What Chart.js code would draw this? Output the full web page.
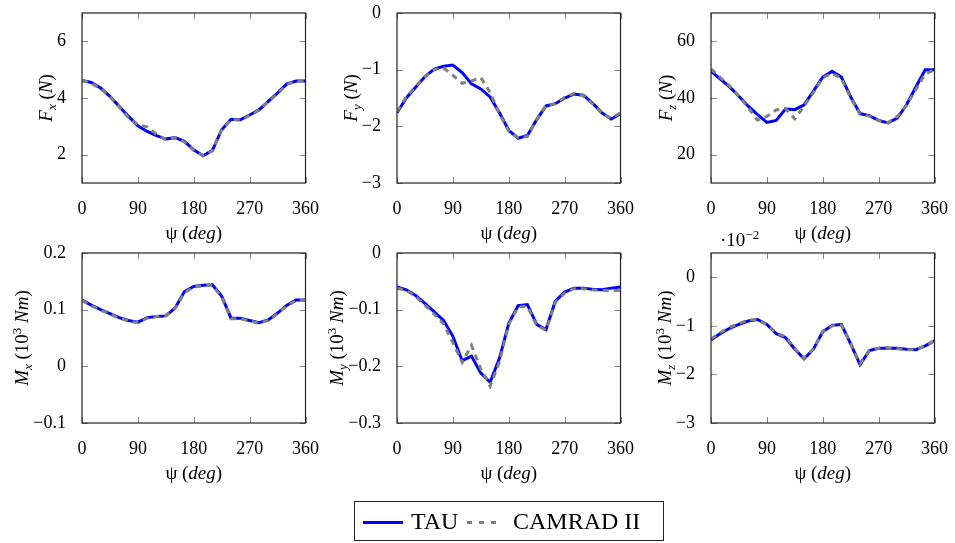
<!DOCTYPE html>
<html>
<head>
<meta charset="utf-8">
<script src="https://cdn.jsdelivr.net/npm/chart.js@4.4.0/dist/chart.umd.min.js"></script>
<style>
body { margin: 0; background: #fff; width: 955px; height: 543px; position: relative; overflow: hidden; font-family: 'Liberation Serif', serif; }
canvas { position: absolute; }
#legend { position: absolute; left: 354px; top: 501px; width: 310px; height: 40px; border: 1px solid #222; box-sizing: border-box; font-size: 24px; color: #000; }
#legend span { position: absolute; }
.swatch { height: 3px; top: 19px; }
.txt { top: 4px; line-height: 30px; }
</style>
</head>
<body>
<canvas id="fx" width="326" height="257" style="left:0px;top:-12px"></canvas>
<canvas id="fy" width="326" height="257" style="left:315px;top:-12px"></canvas>
<canvas id="fz" width="326" height="257" style="left:629px;top:-12px"></canvas>
<canvas id="mx" width="326" height="257" style="left:0px;top:228px"></canvas>
<canvas id="my" width="326" height="257" style="left:315px;top:228px"></canvas>
<canvas id="mz" width="326" height="257" style="left:629px;top:228px"></canvas>
<div id="legend">
  <span class="swatch" style="left:8px;width:40px;background:#0000ff"></span>
  <span class="txt" style="left:56px">TAU</span>
  <span class="swatch" style="left:112px;width:36px;background:repeating-linear-gradient(90deg,#808080 0 5px,transparent 5px 12px)"></span>
  <span class="txt" style="left:158px">CAMRAD II</span>
</div>
<script>
// azimut
const psi = [0, 15, 30, 45, 60, 75, 90, 105, 120, 135, 150, 165, 180, 195, 210, 225, 240, 255, 270, 285, 300, 315, 330, 345, 360];
const xTicks = [0, 90, 180, 270, 360];

// Fuerzas
const fxTau = [4.62, 4.55, 4.35, 4.06, 3.70, 3.35, 3.02, 2.82, 2.67, 2.55, 2.60, 2.47, 2.17, 1.96, 2.15, 2.88, 3.25, 3.23, 3.40, 3.58, 3.88, 4.18, 4.50, 4.60, 4.60];
const fxCam = [4.63, 4.52, 4.33, 4.05, 3.68, 3.30, 3.06, 2.98, 2.72, 2.53, 2.60, 2.45, 2.15, 1.97, 2.13, 2.90, 3.24, 3.22, 3.38, 3.57, 3.87, 4.15, 4.48, 4.60, 4.62];
const fyTau = [-1.76, -1.50, -1.31, -1.12, -0.99, -0.94, -0.92, -1.05, -1.25, -1.34, -1.48, -1.76, -2.07, -2.21, -2.16, -1.88, -1.64, -1.60, -1.50, -1.43, -1.45, -1.59, -1.76, -1.87, -1.78];
const fyCam = [-1.74, -1.48, -1.30, -1.12, -1.00, -0.97, -1.10, -1.24, -1.20, -1.14, -1.40, -1.78, -2.08, -2.20, -2.18, -1.88, -1.63, -1.60, -1.49, -1.42, -1.46, -1.60, -1.77, -1.86, -1.76];
const fzTau = [49.4, 46.7, 43.9, 40.6, 37.1, 34.1, 31.4, 32.1, 36.1, 35.9, 37.6, 42.4, 47.4, 49.4, 47.4, 40.4, 34.5, 33.8, 32.1, 31.2, 32.9, 37.6, 43.9, 50.0, 50.0];
const fzCam = [50.3, 47.2, 44.2, 40.6, 36.6, 32.2, 33.5, 35.8, 36.3, 32.6, 37.2, 42.0, 47.2, 48.6, 47.0, 40.0, 34.3, 33.6, 32.0, 31.3, 33.4, 37.4, 43.0, 48.5, 50.0];

// Momentos
const mxTau = [0.117, 0.108, 0.100, 0.093, 0.086, 0.081, 0.078, 0.086, 0.088, 0.089, 0.103, 0.132, 0.141, 0.143, 0.144, 0.124, 0.085, 0.085, 0.081, 0.077, 0.082, 0.094, 0.108, 0.117, 0.117];
const mxCam = [0.116, 0.107, 0.099, 0.092, 0.085, 0.080, 0.077, 0.085, 0.088, 0.090, 0.102, 0.130, 0.140, 0.142, 0.143, 0.122, 0.084, 0.084, 0.080, 0.076, 0.081, 0.093, 0.107, 0.116, 0.117];
const myTau = [-0.060, -0.065, -0.075, -0.089, -0.104, -0.119, -0.147, -0.190, -0.182, -0.212, -0.228, -0.186, -0.124, -0.093, -0.091, -0.126, -0.135, -0.085, -0.069, -0.062, -0.062, -0.064, -0.065, -0.062, -0.060];
const myCam = [-0.062, -0.066, -0.077, -0.092, -0.108, -0.125, -0.158, -0.193, -0.163, -0.205, -0.235, -0.192, -0.126, -0.095, -0.094, -0.128, -0.136, -0.087, -0.071, -0.063, -0.063, -0.065, -0.066, -0.066, -0.066];
const mzTau = [-1.29, -1.16, -1.05, -0.97, -0.90, -0.87, -0.97, -1.16, -1.24, -1.48, -1.68, -1.48, -1.12, -0.99, -0.97, -1.37, -1.80, -1.51, -1.46, -1.46, -1.46, -1.48, -1.49, -1.41, -1.31];
const mzCam = [-1.27, -1.14, -1.03, -0.95, -0.88, -0.87, -0.98, -1.15, -1.22, -1.47, -1.67, -1.47, -1.11, -1.00, -0.98, -1.36, -1.78, -1.52, -1.46, -1.45, -1.47, -1.49, -1.49, -1.41, -1.31];

// Ticks del eje y
const fxTicks = [2, 4, 6];
const fyTicks = [-3, -2, -1, 0];
const fzTicks = [20, 40, 60];
const mxTicks = [-0.1, 0, 0.1, 0.2];
const myTicks = [-0.3, -0.2, -0.1, 0];
const mzTicks = [-3, -2, -1, 0];

// Textos
const psiTitle = [{t: 'ψ'}, {t: ' ('}, {t: 'deg', it: 1}, {t: ')'}];
const forceTitle = c => [{t: 'F', it: 1}, {t: c, it: 1, sub: 1}, {t: ' ('}, {t: 'N', it: 1}, {t: ')'}];
const momentTitle = c => [{t: 'M', it: 1}, {t: c, it: 1, sub: 1}, {t: ' (10'}, {t: '3', sup: 1}, {t: ' '}, {t: 'Nm', it: 1}, {t: ')'}];
const mzNote = [{t: '·10'}, {t: '−2', sup: 1}];

const FONT = 'Liberation Serif';

function drawRich(ctx, segs, x, y, rot, alignLeft) {
    const parts = segs.map(s => {
        const size = (s.sub || s.sup) ? 13 : 19;
        const font = (s.it ? 'italic ' : '') + size + 'px "' + FONT + '"';
        ctx.font = font;
        return { t: s.t, font, w: ctx.measureText(s.t).width, dy: s.sub ? 4 : (s.sup ? -7 : 0) };
    });
    const total = parts.reduce((a, p) => a + p.w, 0);
    ctx.save();
    ctx.translate(x, y);
    ctx.rotate(rot);
    ctx.fillStyle = '#000';
    ctx.textAlign = 'left';
    ctx.textBaseline = 'alphabetic';
    let xx = alignLeft ? 0 : -total / 2;
    const base = alignLeft ? 0 : 6;
    parts.forEach(p => {
        ctx.font = p.font;
        ctx.fillText(p.t, xx, base + p.dy);
        xx += p.w;
    });
    ctx.restore();
}

const fmt = v => String(v).replace('-', '−');

// Marco, ticks interiores y títulos
const framePlugin = {
    id: 'frame',
    afterDatasetsDraw(chart, args, opts) {
        const { ctx, chartArea: a, scales: { x, y } } = chart;
        ctx.save();
        ctx.strokeStyle = '#888';
        ctx.lineWidth = 1;
        ctx.beginPath();
        x.ticks.forEach(t => {
            const px = Math.round(x.getPixelForValue(t.value)) + 0.5;
            ctx.moveTo(px, a.top); ctx.lineTo(px, a.top + 6);
            ctx.moveTo(px, a.bottom); ctx.lineTo(px, a.bottom - 6);
        });
        y.ticks.forEach(t => {
            const py = Math.round(y.getPixelForValue(t.value)) + 0.5;
            ctx.moveTo(a.left, py); ctx.lineTo(a.left + 6, py);
            ctx.moveTo(a.right, py); ctx.lineTo(a.right - 6, py);
        });
        ctx.stroke();
        ctx.strokeStyle = '#222';
        ctx.lineWidth = 1.2;
        ctx.strokeRect(a.left, a.top, a.right - a.left, a.bottom - a.top);

        ctx.font = '18px "' + FONT + '"';
        const maxw = Math.max(...y.ticks.map(t => ctx.measureText(fmt(t.value)).width));
        drawRich(ctx, opts.yTitle, a.left - 8 - maxw - 19, (a.top + a.bottom) / 2, -Math.PI / 2);
        drawRich(ctx, psiTitle, (a.left + a.right) / 2, a.bottom + 50, 0);
        if (opts.note) drawRich(ctx, opts.note, a.left + 9, a.top - 7, 0, true);
        ctx.restore();
    }
};

function makePanel(id, tau, cam, yMin, yMax, yTicks, yTitle, note) {
    const config = {
        type: 'line',
        data: {
            datasets: [
                {
                    label: 'TAU',
                    data: psi.map((p, i) => ({ x: p, y: tau[i] })),
                    borderColor: '#0000ff',
                    borderWidth: 3,
                    pointRadius: 0,
                    tension: 0,
                    order: 1
                },
                {
                    label: 'CAMRAD II',
                    data: psi.map((p, i) => ({ x: p, y: cam[i] })),
                    borderColor: '#808080',
                    borderWidth: 3,
                    borderDash: [6, 5],
                    pointRadius: 0,
                    tension: 0,
                    order: 0
                }
            ]
        },
        options: {
            responsive: false,
            animation: false,
            devicePixelRatio: 1,
            layout: { padding: { top: 25, right: 18, bottom: 0, left: 0 } },
            plugins: {
                legend: { display: false },
                tooltip: { enabled: false },
                frame: { yTitle, note }
            },
            scales: {
                x: {
                    type: 'linear',
                    min: 0,
                    max: 360,
                    afterBuildTicks: s => { s.ticks = xTicks.map(v => ({ value: v })); },
                    afterFit: s => { s.height = 62; },
                    grid: { display: false },
                    border: { display: false },
                    ticks: { color: '#000', font: { family: FONT, size: 18 }, padding: 7, maxRotation: 0, autoSkip: false, callback: fmt }
                },
                y: {
                    type: 'linear',
                    min: yMin,
                    max: yMax,
                    afterBuildTicks: s => { s.ticks = yTicks.map(v => ({ value: v })); },
                    afterFit: s => { s.width = 82; },
                    grid: { display: false },
                    border: { display: false },
                    ticks: { color: '#000', font: { family: FONT, size: 18 }, padding: 8, autoSkip: false, callback: fmt }
                }
            }
        },
        plugins: [framePlugin]
    };
    return new Chart(document.getElementById(id), config);
}

makePanel('fx', fxTau, fxCam, 1, 7, fxTicks, forceTitle('x'));
makePanel('fy', fyTau, fyCam, -3, 0, fyTicks, forceTitle('y'));
makePanel('fz', fzTau, fzCam, 10, 70, fzTicks, forceTitle('z'));
makePanel('mx', mxTau, mxCam, -0.1, 0.2, mxTicks, momentTitle('x'));
makePanel('my', myTau, myCam, -0.3, 0, myTicks, momentTitle('y'));
makePanel('mz', mzTau, mzCam, -3, 0.5, mzTicks, momentTitle('z'), mzNote);
</script>
</body>
</html>
